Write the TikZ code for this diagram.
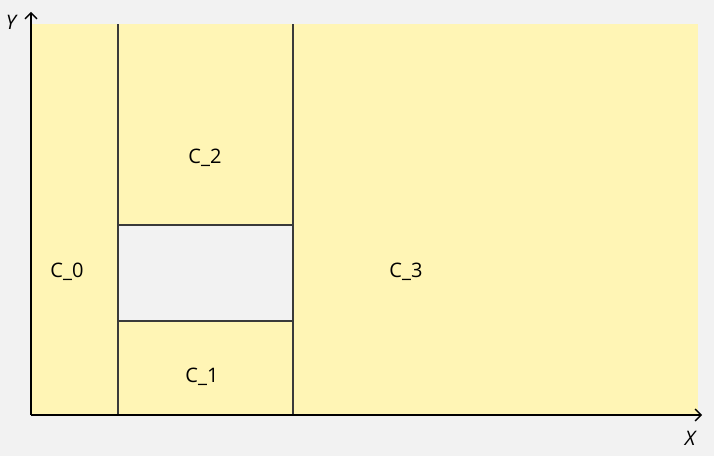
\documentclass[tikz,border=0pt]{standalone}
\usepackage{fontspec}
\setmainfont{Open Sans}
\usetikzlibrary{arrows.meta}
\definecolor{cellfill}{HTML}{FFF5B5}
\definecolor{bgfill}{HTML}{F2F2F2}
\definecolor{edgecol}{HTML}{3A3A3A}

\begin{document}
\begin{tikzpicture}[x=1pt,y=1pt,
		cell/.style={font=\fontsize{20}{24}\selectfont, text=black},
		axislabel/.style={font=\fontsize{20}{24}\selectfont\itshape, text=black},
		axis/.style={line width=1.4pt, -{Straight Barb[length=6pt,width=12pt,line width=1.4pt]}}]
		
		% Háttér
		\fill [bgfill] (0,0) rectangle (714,456);
		\useasboundingbox (0,0) rectangle (714,456);
		
		% Sárga cellák
		\fill [cellfill] (31,41) rectangle (698,432); % teljes tartomány
		\fill [bgfill] (118,135) rectangle (293,231); % üres lyuk
		
		% Cellahatárok
		\draw [line width=1.6pt, edgecol] (118,41)--(118,432); % bal oszlop
		\draw [line width=1.6pt, edgecol] (293,41)--(293,432); % jobb oszlop
		\draw [line width=1.6pt, edgecol] (118,231)--(293,231); % felső határ
		\draw [line width=1.6pt, edgecol] (118,135)--(293,135); % alsó határ
		
		% Tengelyek
		\draw [axis] (31,41)--(31,444); % y tengely
		\draw [axis] (31,41)--(702,41); % x tengely
		\node[axislabel] (ylab) at (11,434) {Y};
		\node[axislabel] (xlab) at (690,18) {X};
		
		% Címkék
		\node[cell] (c0) at (67,184) {C\_0};
		\node[cell] (c1) at (202,79) {C\_1};
		\node[cell] (c2) at (205,298) {C\_2};
		\node[cell] (c3) at (406,184) {C\_3};
		
	\end{tikzpicture}
\end{document}
